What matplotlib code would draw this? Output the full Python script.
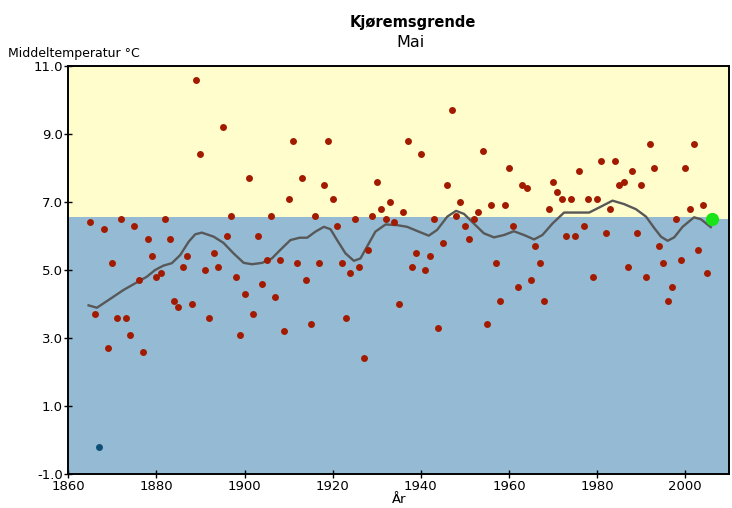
import matplotlib
matplotlib.use("Agg")
import matplotlib.pyplot as plt

# May mean temperature, Kjøremsgrende
years = list(range(1865, 2006))
temps = [6.4, 3.7, -0.2, 6.2, 2.7, 5.2, 3.6, 6.5, 3.6, 3.1,
         6.3, 4.7, 2.6, 5.9, 5.4, 4.8, 4.9, 6.5, 5.9, 4.1,
         3.9, 5.1, 5.4, 4.0, 10.6, 8.4, 5.0, 3.6, 5.5, 5.1,
         9.2, 6.0, 6.6, 4.8, 3.1, 4.3, 7.7, 3.7, 6.0, 4.6,
         5.3, 6.6, 4.2, 5.3, 3.2, 7.1, 8.8, 5.2, 7.7, 4.7,
         3.4, 6.6, 5.2, 7.5, 8.8, 7.1, 6.3, 5.2, 3.6, 4.9,
         6.5, 5.1, 2.4, 5.6, 6.6, 7.6, 6.8, 6.5, 7.0, 6.4,
         4.0, 6.7, 8.8, 5.1, 5.5, 8.4, 5.0, 5.4, 6.5, 3.3,
         5.8, 7.5, 9.7, 6.6, 7.0, 6.3, 5.9, 6.5, 6.7, 8.5,
         3.4, 6.9, 5.2, 4.1, 6.9, 8.0, 6.3, 4.5, 7.5, 7.4,
         4.7, 5.7, 5.2, 4.1, 6.8, 7.6, 7.3, 7.1, 6.0, 7.1,
         6.0, 7.9, 6.3, 7.1, 4.8, 7.1, 8.2, 6.1, 6.8, 8.2,
         7.5, 7.6, 5.1, 7.9, 6.1, 7.5, 4.8, 8.7, 8.0, 5.7,
         5.2, 4.1, 4.5, 6.5, 5.3, 8.0, 6.8, 8.7, 5.6, 6.9,
         4.9]
latest_year = 2006
latest_temp = 6.5

# smoothed curve
smooth_years = [1864.6, 1866.5, 1870.2, 1872.5, 1875.2, 1877.8, 1879.7, 1881.6,
                1883.5, 1885.4, 1887.3, 1888.8, 1890.3, 1893.0, 1895.2, 1897.5,
                1899.8, 1901.7, 1904.0, 1906.2, 1908.1, 1910.4, 1912.5, 1914.2,
                1916.1, 1918.0, 1919.5, 1921.0, 1922.9, 1924.8, 1926.3, 1927.8,
                1929.7, 1932.0, 1934.6, 1936.9, 1939.5, 1941.8, 1943.7, 1946.0,
                1948.0, 1949.8, 1952.0, 1954.3, 1956.6, 1958.9, 1961.1, 1963.4,
                1965.7, 1967.6, 1969.9, 1972.5, 1975.5, 1978.2, 1980.8, 1983.5,
                1986.1, 1988.8, 1991.1, 1993.0, 1994.5, 1996.0, 1997.5, 1999.4,
                2002.0, 2003.6, 2005.8]
smooth_vals = [3.96, 3.89, 4.21, 4.41, 4.61, 4.80, 5.00, 5.13,
               5.20, 5.44, 5.83, 6.05, 6.10, 5.98, 5.80, 5.49,
               5.21, 5.17, 5.21, 5.34, 5.59, 5.88, 5.95, 5.95,
               6.13, 6.27, 6.20, 5.88, 5.49, 5.27, 5.34, 5.69,
               6.13, 6.34, 6.32, 6.27, 6.13, 6.01, 6.18, 6.57,
               6.74, 6.65, 6.37, 6.08, 5.96, 6.03, 6.14, 6.03,
               5.90, 6.03, 6.37, 6.69, 6.69, 6.69, 6.86, 7.04,
               6.94, 6.79, 6.57, 6.23, 5.98, 5.86, 5.96, 6.27,
               6.55, 6.49, 6.26]

# normal level splitting the background
normal_years = [1860, 2007.5, 2010]
normal_vals = [6.56, 6.50, 6.50]

fig = plt.figure(figsize=(7.32, 5.08), dpi=100)
ax = fig.add_axes([0.0933, 0.067, 0.9030, 0.803])
ax.set_xlim(1860, 2010)
ax.set_ylim(-1.0, 11.0)

ax.fill_between(normal_years, normal_vals, 11.0, step="post",
                color="#FFFDCC", lw=0, zorder=0)
ax.fill_between(normal_years, -1.0, normal_vals, step="post",
                color="#94BAD4", lw=0, zorder=0)

ax.plot(smooth_years, smooth_vals, color="#585858", lw=1.7, zorder=2)

i_min = temps.index(min(temps))
red_x = [y for i, y in enumerate(years) if i != i_min]
red_y = [t for i, t in enumerate(temps) if i != i_min]
ax.plot(red_x, red_y, "o", color="#A21B00", ms=5.0, mec="none", zorder=3)
ax.plot(years[i_min], temps[i_min], "o", color="#0E4F78", ms=5.0, mec="none", zorder=3)
ax.plot(latest_year, latest_temp, "o", color="#18E418", ms=9.5, mec="none", zorder=4)

ax.set_xticks(range(1860, 2001, 20))
ax.set_yticks([-1, 1, 3, 5, 7, 9, 11])
ax.yaxis.set_major_formatter(matplotlib.ticker.FormatStrFormatter("%.1f"))
ax.tick_params(direction="inout", length=6, width=1, labelsize=9.5, pad=1)
for s in ax.spines.values():
    s.set_linewidth(1.4)

ax.set_xlabel("År", fontsize=9.5, labelpad=0)
fig.text(0.011, 0.895, "Middeltemperatur °C", fontsize=9, ha="left", va="center")
fig.text(0.564, 0.956, "Kjøremsgrende", fontsize=10.5, fontweight="bold",
         ha="center", va="center")
fig.text(0.561, 0.917, "Mai", fontsize=11.5, ha="center", va="center")

fig.savefig("out.png", dpi=100)
